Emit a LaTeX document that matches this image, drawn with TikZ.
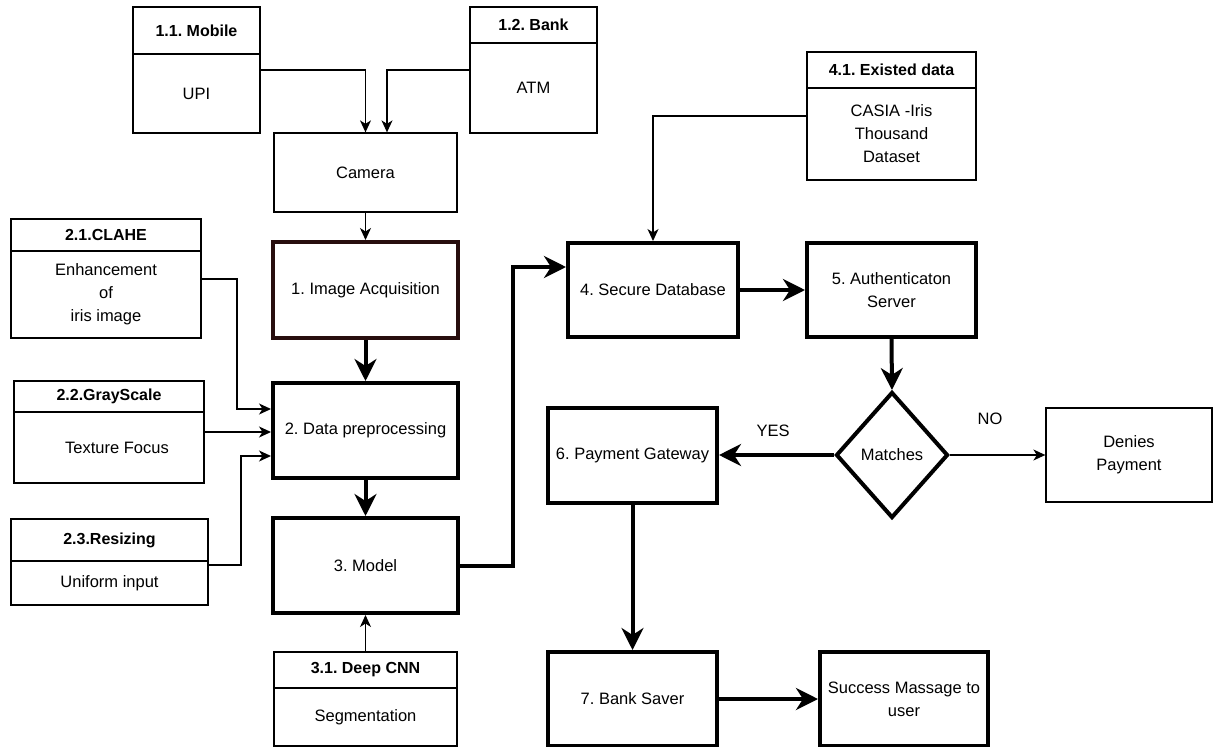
\documentclass[tikz,border=0pt]{standalone}
\usepackage{fontspec}
\setmainfont{Liberation Sans}
\usetikzlibrary{arrows.meta,shapes.geometric}
\definecolor{acqcol}{RGB}{40,14,14}
\frenchspacing
\tikzset{
  txt/.style={font=\frenchspacing\fontsize{16.5}{23}\selectfont, align=center},
  hdr/.style={draw, line width=1.3pt, inner sep=0pt, font=\frenchspacing\bfseries\fontsize{16}{20}\selectfont},
  thinbox/.style={draw, line width=1.3pt, inner sep=0pt, txt},
  thickbox/.style={draw, line width=4pt, inner sep=0pt, txt},
  thinarr/.style={line width=1.3pt, -{Stealth[length=12pt,width=11pt,inset=3.5pt]}},
  thickarr/.style={line width=4pt, -{Stealth[length=22pt,width=22pt,inset=7pt]}},
  sz/.style 2 args={minimum width=#1pt, minimum height=#2pt},
}
\begin{document}
\begin{tikzpicture}[x=1pt,y=-1pt]
\useasboundingbox (0,0) rectangle (1213,747);

% top inputs
\node[hdr, sz={127}{47}] (mobH) at (196.5,30.5) {1.1. Mobile};
\node[thinbox, sz={127}{79}] (mob) at (196.5,93.5) {UPI};
\node[hdr, sz={127}{36}] (bankH) at (533.5,25) {1.2. Bank};
\node[thinbox, sz={127}{90}] (bank) at (533.5,88) {ATM};
\node[thinbox, sz={183}{79}] (cam) at (365.5,172.5) {Camera};

% main column
\node[thickbox, draw=acqcol, sz={185}{96}] (acq) at (365.5,290) {1. Image Acquisition};
\node[thickbox, sz={185}{95}] (pre) at (365.5,430.5) {2. Data preprocessing};
\node[thickbox, sz={185}{95}] (model) at (365.5,565.5) {3. Model};
\node[hdr, sz={183}{36}] (cnnH) at (365.5,670) {3.1. Deep CNN};
\node[thinbox, sz={183}{58}] (cnn) at (365.5,717) {Segmentation};

% left side
\node[hdr, sz={190}{32}] (claheH) at (106,235) {2.1.CLAHE};
\node[thinbox, sz={190}{87}] (clahe) at (106,294.5) {Enhancement\\of\\iris image};
\node[hdr, sz={190}{31}] (grayH) at (109,396.5) {2.2.GrayScale};
\node[thinbox, sz={190}{71}] (gray) at (109,447.5) {\hspace*{16pt}Texture Focus};
\node[hdr, sz={197}{42}] (resH) at (109.5,540) {2.3.Resizing};
\node[thinbox, sz={197}{44}] (res) at (109.5,583) {Uniform input};

% right part
\node[hdr, sz={169}{36}] (exH) at (891.5,70) {4.1. Existed data};
\node[thinbox, sz={169}{92}] (ex) at (891.5,134) {CASIA -Iris\\Thousand\\Dataset};
\node[thickbox, sz={170}{94}] (db) at (653,290) {4. Secure Database};
\node[thickbox, sz={169}{94}] (auth) at (891.5,290) {5. Authenticaton\\Server};
\node[diamond, draw, line width=4pt, inner sep=0pt, txt, minimum width=112pt, minimum height=126pt] (dia) at (892,455) {Matches};
\node[thickbox, sz={169}{95}] (pay) at (632.5,455.5) {6. Payment Gateway};
\node[thinbox, sz={166}{94}] (deny) at (1129,455) {Denies\\Payment};
\node[thickbox, sz={169}{94}] (bsav) at (632.5,699) {7. Bank Saver};
\node[thickbox, sz={168}{94}] (succ) at (904,699) {Success Massage to\\user};

\node[txt, inner sep=0pt] (yes) at (773,431) {YES};
\node[txt, inner sep=0pt] (no) at (990,419) {NO};

% connectors
\draw[thinarr] (mob.east |- 0,70) -| (cam.north);
\draw[thinarr] (bank.west |- 0,70) -| (cam.north -| 387,0);
\draw[thinarr] (cam.south) -- (acq.north);
\draw[thickarr] (acq.south) -- (pre.north);
\draw[thinarr] (clahe.east |- 0,279) -| (237,409) -- (pre.west |- 0,409);
\draw[thinarr] (gray.east |- 0,432) -- (pre.west |- 0,432);
\draw[thinarr] (res.east |- 0,565) -| (241,456) -- (pre.west |- 0,456);
\draw[thickarr] (pre.south) -- (model.north);
\draw[thinarr] (cnnH.north) -- (model.south);
\draw[thickarr] (model.east) -| (513,267) -- (db.west |- 0,267);
\draw[thinarr] (ex.west |- 0,116) -| (db.north);
\draw[thickarr] (db.east) -- (auth.west);
\draw[thickarr] (auth.south) -- (dia.north);
\draw[thickarr] (dia.west) -- (pay.east |- dia.west);
\draw[thinarr] (dia.east) -- (deny.west |- dia.east);
\draw[thickarr] (pay.south) -- (bsav.north);
\draw[thickarr] (bsav.east) -- (succ.west);
\end{tikzpicture}
\end{document}
